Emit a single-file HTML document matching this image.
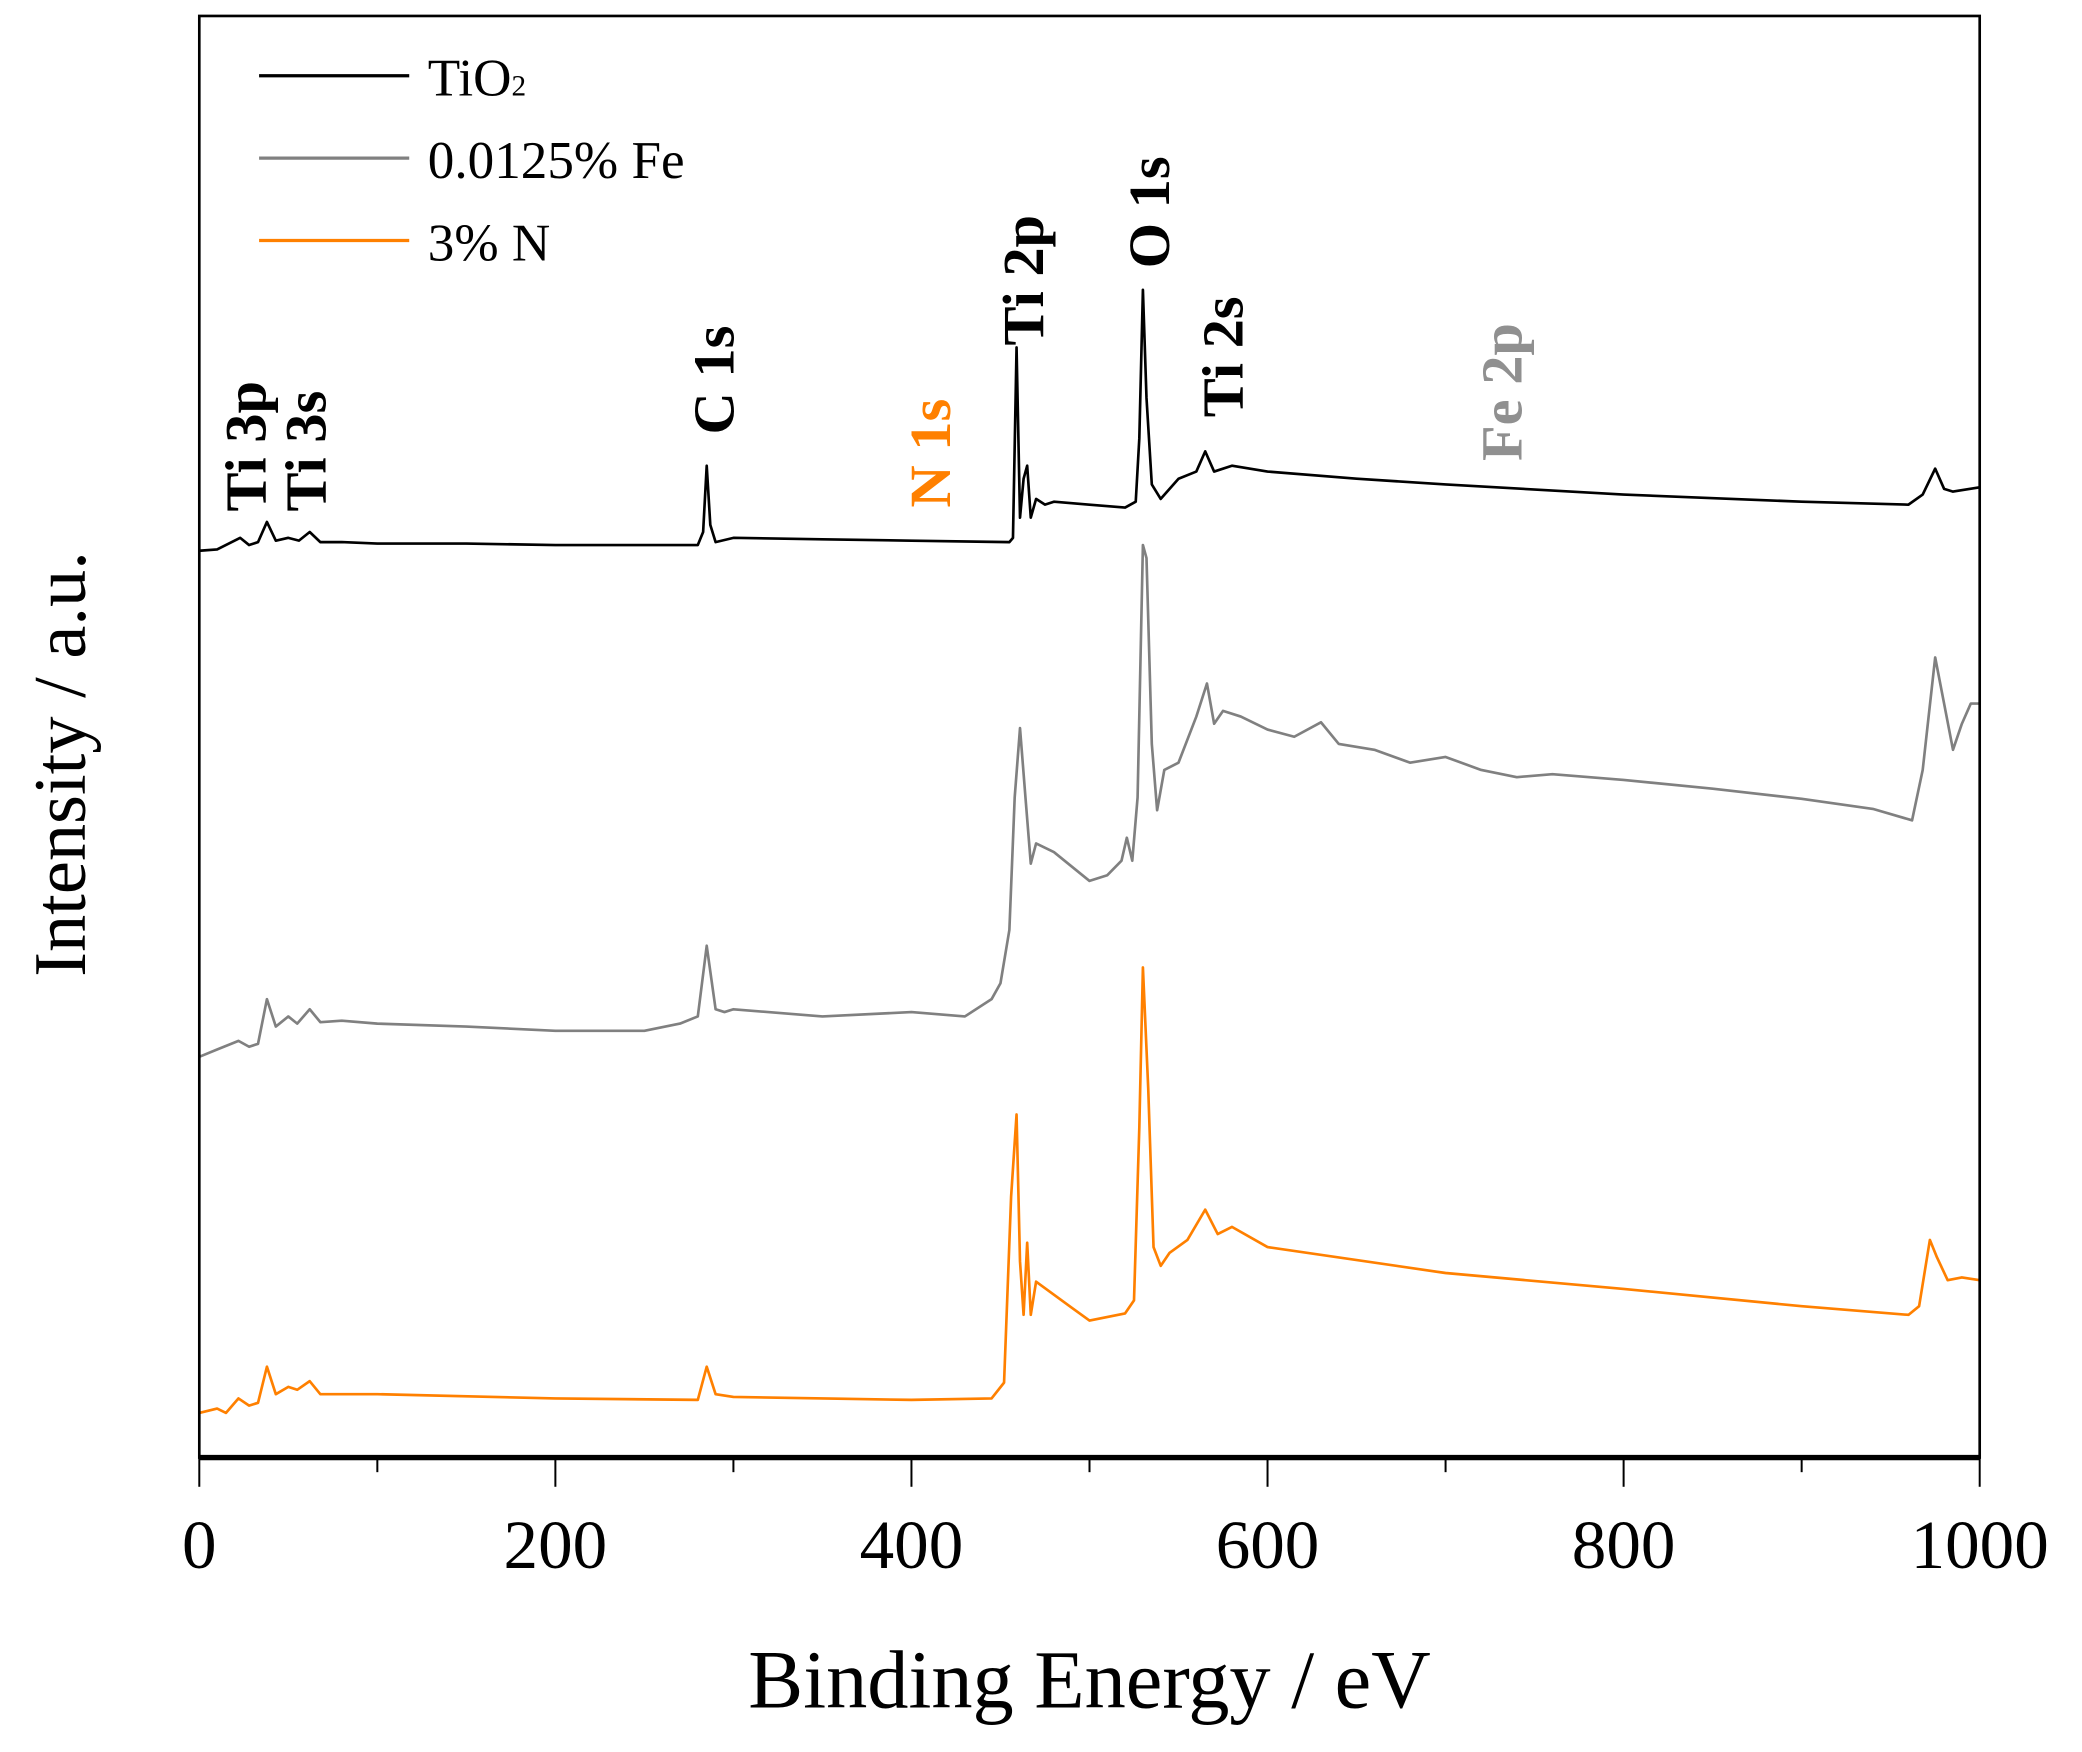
<!DOCTYPE html>
<html><head><meta charset="utf-8"><style>
html,body{margin:0;padding:0;background:#fff}
svg{display:block}
text{font-family:"Liberation Serif",serif}
</style></head><body>
<svg id="chart" width="2082" height="1752" viewBox="0 0 1567 1318.6" xmlns="http://www.w3.org/2000/svg">
<g id="plot"></g>
<rect x="150" y="12" width="1340" height="1085" fill="none" stroke="#000" stroke-width="2"/>
<line x1="150" y1="1097" x2="1490" y2="1097" stroke="#000" stroke-width="4"/>
<g id="xticks"></g>
<text x="820" y="1285" font-size="62" text-anchor="middle">Binding Energy / eV</text>
<text transform="translate(64,575) rotate(-90)" font-size="56" text-anchor="middle">Intensity / a.u.</text>
<g font-size="40">
<g><line x1="195" y1="57" x2="308" y2="57" stroke="#000" stroke-width="2.5"/><text x="322" y="72">TiO<tspan font-size="22">2</tspan></text></g>
<g><line x1="195" y1="119" x2="308" y2="119" stroke="#808080" stroke-width="2.5"/><text x="322" y="134">0.0125% Fe</text></g>
<g><line x1="195" y1="181" x2="308" y2="181" stroke="#ff8000" stroke-width="2.5"/><text x="322" y="196">3% N</text></g>
</g>
<g font-size="44" font-weight="bold">
<text transform="translate(200,385) rotate(-90)">Ti 3p</text>
<text transform="translate(245,385) rotate(-90)">Ti 3s</text>
<text transform="translate(552,327) rotate(-90)">C 1s</text>
<text transform="translate(715,382) rotate(-90)" fill="#ff8000">N 1s</text>
<text transform="translate(785,260) rotate(-90)">Ti 2p</text>
<text transform="translate(880,202) rotate(-90)">O 1s</text>
<text transform="translate(935,314) rotate(-90)">Ti 2s</text>
<text transform="translate(1145,347) rotate(-90)" fill="#909090">Fe 2p</text>
</g>
</svg>
<script>
const tickLabels = [0, 200, 400, 600, 800, 1000];
const minorTicks = [100, 300, 500, 700, 900];
const energyTiO2 = [0,10,23,28,33,38,43,50,56,62,68,80,100,150,200,250,280,283,285,287,290,300,350,400,455,457,459,461,463,465,467,470,475,480,500,520,526,528,530,532,535,540,550,560,565,570,580,600,650,700,800,900,960,968,975,980,985,1000];
const intTiO2 = [62.9,63.0,63.8,63.3,63.5,64.9,63.6,63.8,63.6,64.2,63.5,63.5,63.4,63.4,63.3,63.3,63.3,64.2,68.8,64.7,63.5,63.8,63.7,63.6,63.5,63.8,77.0,65.2,67.9,68.8,65.2,66.5,66.1,66.3,66.1,65.9,66.3,70.7,81.0,73.5,67.5,66.5,67.9,68.4,69.8,68.4,68.8,68.4,67.9,67.5,66.8,66.3,66.1,66.8,68.6,67.2,67.0,67.3];
const energyFe = [0,10,22,28,33,38,43,50,55,62,68,80,100,150,200,250,270,280,285,290,295,300,350,400,430,445,450,455,458,461,464,467,470,480,500,510,518,521,524,527,530,532,535,538,542,550,560,566,570,575,585,600,615,630,640,660,680,700,720,740,760,800,850,900,940,962,968,975,980,985,990,995,1000];
const intFe = [27.8,28.3,28.9,28.5,28.7,31.8,29.9,30.6,30.1,31.1,30.2,30.3,30.1,29.9,29.6,29.6,30.1,30.6,35.5,31.1,30.9,31.1,30.6,30.9,30.6,31.8,32.9,36.6,45.8,50.6,45.8,41.2,42.6,42.0,40.0,40.4,41.4,43.0,41.4,45.8,63.3,62.4,49.5,44.9,47.7,48.2,51.4,53.7,50.9,51.8,51.4,50.5,50.0,51.0,49.5,49.1,48.2,48.6,47.7,47.2,47.4,47.0,46.4,45.7,45.0,44.2,47.7,55.5,52.3,49.1,50.9,52.3,52.3];
const energyN = [0,10,15,22,28,33,38,43,50,55,62,68,100,200,280,285,290,300,400,445,452,456,459,461,463,465,467,470,480,490,500,520,525,528,530,533,536,540,545,555,565,572,580,600,700,800,900,960,966,972,976,982,990,1000];
const intN = [3.1,3.4,3.1,4.1,3.6,3.8,6.3,4.4,4.9,4.7,5.3,4.4,4.4,4.1,4.0,6.3,4.4,4.2,4.0,4.1,5.2,18.1,23.8,13.6,9.9,14.9,9.9,12.2,11.3,10.4,9.5,10.0,10.9,22.9,34.0,25.6,14.6,13.3,14.2,15.1,17.2,15.5,16.0,14.6,12.8,11.7,10.5,9.9,10.5,15.1,13.9,12.3,12.5,12.3];

const X0 = 150, X1 = 1490, Y0 = 1097, Y1 = 12;
function xs(e){ return X0 + (e - 0) / (1000 - 0) * (X1 - X0); }
function ys(v){ return Y0 - v / 100 * (Y0 - Y1); }
const NS = 'http://www.w3.org/2000/svg';
const plot = document.getElementById('plot');
function drawSeries(ex, iv, color, name){
  let d = '';
  for (let i = 0; i < ex.length; i++) d += (i ? 'L' : 'M') + xs(ex[i]).toFixed(1) + ',' + ys(iv[i]).toFixed(1);
  const p = document.createElementNS(NS, 'path');
  p.setAttribute('d', d);
  p.setAttribute('fill', 'none');
  p.setAttribute('stroke', color);
  p.setAttribute('stroke-width', '2');
  p.setAttribute('stroke-linejoin', 'round');
  
  
  plot.appendChild(p);
}
drawSeries(energyTiO2, intTiO2, '#000', 'series-tio2');
drawSeries(energyFe, intFe, '#808080', 'series-fe');
drawSeries(energyN, intN, '#ff8000', 'series-n');

const xt = document.getElementById('xticks');
tickLabels.forEach(t => {
  const l = document.createElementNS(NS, 'line');
  l.setAttribute('x1', xs(t)); l.setAttribute('x2', xs(t));
  l.setAttribute('y1', Y0); l.setAttribute('y2', Y0 + 22);
  l.setAttribute('stroke', '#000'); l.setAttribute('stroke-width', '1.5');
  
  
  xt.appendChild(l);
  const tx = document.createElementNS(NS, 'text');
  tx.setAttribute('x', xs(t)); tx.setAttribute('y', 1180);
  tx.setAttribute('font-size', '52'); tx.setAttribute('text-anchor', 'middle');
  tx.textContent = t;
  
  
  xt.appendChild(tx);
});
minorTicks.forEach(t => {
  const l = document.createElementNS(NS, 'line');
  l.setAttribute('x1', xs(t)); l.setAttribute('x2', xs(t));
  l.setAttribute('y1', Y0); l.setAttribute('y2', Y0 + 11);
  l.setAttribute('stroke', '#000'); l.setAttribute('stroke-width', '1.5');
  
  
  xt.appendChild(l);
});
</script>
</body></html>
